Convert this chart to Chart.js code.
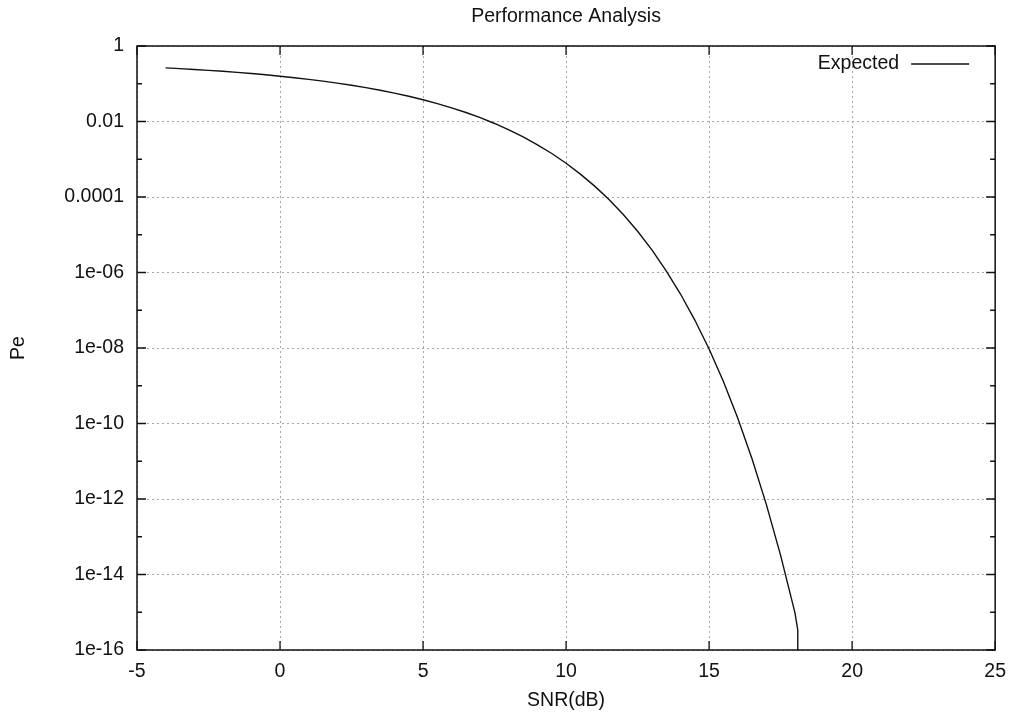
<!DOCTYPE html>
<html>
<head>
<meta charset="utf-8">
<title>Performance Analysis</title>
<script src="https://cdn.jsdelivr.net/npm/chart.js@4/dist/chart.umd.min.js"></script>
<style>
  body { margin: 0; background: #fff; }
  canvas { display: block; }
</style>
</head>
<body>
<canvas id="perfChart" width="1016" height="716"></canvas>
<script>
// values
const snrDb = [-4, -3.5, -3, -2.5, -2, -1.5, -1, -0.5, 0, 0.5, 1, 1.5, 2, 2.5, 3, 3.5,
    4, 4.5, 5, 5.5, 6, 6.5, 7, 7.5, 8, 8.5, 9, 9.5, 10, 10.5, 11, 11.5, 12, 12.5,
    13, 13.5, 14, 14.5, 15, 15.5, 16, 16.5, 17, 17.5, 18, 18.1, 18.1];
const expectedPe = [0.264, 0.252, 0.2395, 0.2266, 0.2137, 0.2001, 0.1863, 0.1726, 0.1587,
    0.1447, 0.131, 0.1173, 0.104, 0.0912, 0.0789, 0.0673, 0.0565, 0.0466, 0.0377, 0.0298,
    0.023, 0.0173, 0.0126, 0.00886, 0.00601, 0.0039, 0.00241, 0.00142, 0.000783, 0.000404,
    0.000194, 8.56e-5, 3.43e-5, 1.24e-5, 3.97e-6, 1.11e-6, 2.69e-7, 5.5e-8, 9.4e-9, 1.29e-9,
    1.4e-10, 1.17e-11, 7.2e-13, 3.2e-14, 9.8e-16, 3.4e-16, 1e-16];

const xTicks = [-5, 0, 5, 10, 15, 20, 25];
const yTicks = [1e-16, 1e-14, 1e-12, 1e-10, 1e-8, 1e-6, 1e-4, 1e-2, 1];
const yTickLabels = ['1e-16', '1e-14', '1e-12', '1e-10', '1e-08', '1e-06', '0.0001', '0.01', '1'];
const yMinorTicks = [1e-15, 1e-13, 1e-11, 1e-9, 1e-7, 1e-5, 1e-3, 1e-1];

const fontFamily = '"Liberation Sans", Arial, Helvetica, sans-serif';
Chart.defaults.font.family = fontFamily;
Chart.defaults.font.size = 19.5;
Chart.defaults.color = '#111';

// white background, frame, inward ticks and the legend (gnuplot style)
const gnuplotLook = {
    id: 'gnuplotLook',
    beforeDraw(chart) {
        const c = chart.ctx;
        c.save();
        c.fillStyle = '#fff';
        c.fillRect(0, 0, chart.width, chart.height);
        c.restore();
    },
    afterDraw(chart) {
        const c = chart.ctx;
        const a = chart.chartArea;
        const xs = chart.scales.x;
        const ys = chart.scales.y;
        c.save();
        c.strokeStyle = '#111';
        c.lineWidth = 1.5;
        c.strokeRect(a.left, a.top, a.right - a.left, a.bottom - a.top);

        c.lineWidth = 1.3;
        c.beginPath();
        xTicks.forEach(v => {
            const px = xs.getPixelForValue(v);
            c.moveTo(px, a.bottom); c.lineTo(px, a.bottom - 9);
            c.moveTo(px, a.top); c.lineTo(px, a.top + 9);
        });
        yTicks.forEach(v => {
            const py = ys.getPixelForValue(v);
            c.moveTo(a.left, py); c.lineTo(a.left + 9, py);
            c.moveTo(a.right, py); c.lineTo(a.right - 9, py);
        });
        yMinorTicks.forEach(v => {
            const py = ys.getPixelForValue(v);
            c.moveTo(a.left, py); c.lineTo(a.left + 5, py);
            c.moveTo(a.right, py); c.lineTo(a.right - 5, py);
        });
        c.stroke();

        // legend: label then line sample, top right
        const ds = chart.data.datasets[0];
        const ly = a.top + 18;
        c.font = '19.5px ' + fontFamily;
        c.fillStyle = '#111';
        c.textAlign = 'right';
        c.textBaseline = 'middle';
        c.fillText(ds.label, a.right - 96, ly);
        c.strokeStyle = ds.borderColor;
        c.lineWidth = 1.3;
        c.beginPath();
        c.moveTo(a.right - 84, ly);
        c.lineTo(a.right - 26, ly);
        c.stroke();
        c.restore();
    }
};

const ctx = document.getElementById('perfChart').getContext('2d');
const chart = new Chart(ctx, {
    type: 'line',
    data: {
        datasets: [{
            label: 'Expected',
            data: snrDb.map((x, i) => ({ x: x, y: expectedPe[i] })),
            borderColor: '#111',
            borderWidth: 1.4,
            pointRadius: 0,
            tension: 0,
            fill: false
        }]
    },
    options: {
        responsive: false,
        animation: false,
        layout: { padding: { left: 0, right: 19, top: 0, bottom: 0 } },
        plugins: {
            legend: { display: false },
            tooltip: { enabled: false },
            title: {
                display: true,
                fullSize: false,
                text: 'Performance Analysis',
                color: '#111',
                font: { size: 19.5, weight: 'normal' },
                padding: { top: 5, bottom: 17.6 }
            }
        },
        scales: {
            x: {
                type: 'linear',
                min: -5,
                max: 25,
                afterBuildTicks: s => { s.ticks = xTicks.map(v => ({ value: v })); },
                afterFit: s => { s.height = 66; },
                ticks: { padding: 10, autoSkip: false, maxRotation: 0 },
                grid: { color: '#a6a6a6', lineWidth: 1, drawTicks: false },
                border: { display: false, dash: [2, 3] },
                title: { display: true, text: 'SNR(dB)', padding: { top: 0, bottom: 4 } }
            },
            y: {
                type: 'logarithmic',
                min: 1e-16,
                max: 1,
                afterBuildTicks: s => { s.ticks = yTicks.map(v => ({ value: v })); },
                afterFit: s => { s.width = 137; },
                ticks: {
                    padding: 13,
                    autoSkip: false,
                    callback: (value, index) => yTickLabels[index]
                },
                grid: { color: '#a6a6a6', lineWidth: 1, drawTicks: false },
                border: { display: false, dash: [2, 3] },
                title: { display: true, text: 'Pe', padding: { top: 7, bottom: 0 } }
            }
        }
    },
    plugins: [gnuplotLook]
});
</script>
</body>
</html>
